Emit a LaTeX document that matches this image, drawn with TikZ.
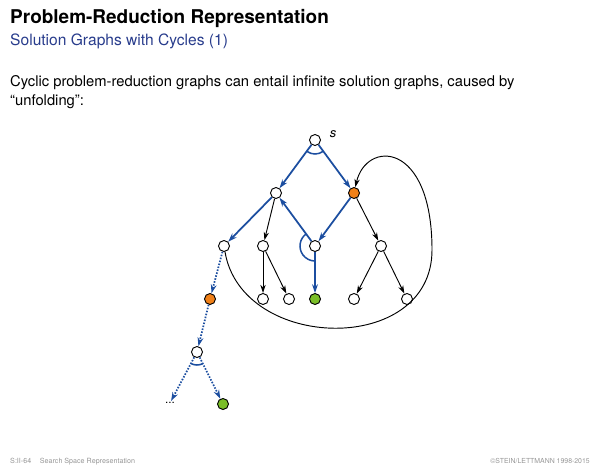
\documentclass[tikz,border=0pt]{standalone}
\usepackage{fontspec}
\setmainfont{TeX Gyre Heros}
\usetikzlibrary{arrows.meta}

\definecolor{solblue}{RGB}{28,78,160}
\definecolor{headblue}{RGB}{40,60,140}
\definecolor{solorange}{RGB}{240,128,24}
\definecolor{solgreen}{RGB}{122,190,40}
\definecolor{footgrey}{RGB}{150,150,150}

\tikzset{
  state/.style={circle,draw,line width=0.8pt,fill=white,inner sep=0pt,minimum size=0.33cm},
  open/.style={state,fill=solorange},
  solved/.style={state,fill=solgreen},
  ref/.style={line width=0.8pt,-{Stealth[length=7pt,width=4.5pt]}},
  sol/.style={draw=solblue,line width=1.5pt,-{Stealth[length=7.5pt,width=5pt]}},
  unfold/.style={sol,dash pattern=on 1.3pt off 1.3pt},
  andarc/.style={solblue,line width=1.3pt},
}

\begin{document}
\begin{tikzpicture}[x=0.03cm,y=0.03cm]
\useasboundingbox (0,0) rectangle (600,-467);
% ---- header and text ----
\node[anchor=base west,inner sep=0pt,font=\fontsize{16.2}{18}\selectfont\bfseries] (title) at (10,-23) {Problem-Reduction Representation};
\node[anchor=base west,inner sep=0pt,font=\fontsize{13.3}{15}\selectfont,text=headblue] (subtitle) at (10,-45.5) {Solution Graphs with Cycles (1)};
\node[anchor=base west,inner sep=0pt,font=\fontsize{12.6}{16}\selectfont] (line1) at (10,-86) {Cyclic problem-reduction graphs can entail infinite solution graphs, caused by};
\node[anchor=base west,inner sep=0pt,font=\fontsize{12.6}{16}\selectfont] (line2) at (10,-105) {``unfolding'':};
% ---- graph nodes ----
\node[state] (s) at (315,-140) {};
\node[inner sep=0pt,font=\fontsize{11}{12}\selectfont\itshape] (slabel) at (333,-134) {s};
\node[state] (A) at (276,-193) {};
\node[open]  (B) at (354,-193) {};
\node[state] (C) at (224,-246) {};
\node[state] (D) at (263,-246) {};
\node[state] (E) at (315,-246) {};
\node[state] (F) at (381,-246) {};
\node[open]   (G) at (210,-299) {};
\node[state]  (H) at (263,-299) {};
\node[state]  (I) at (289,-299) {};
\node[solved] (J) at (315,-299) {};
\node[state]  (K) at (354,-299) {};
\node[state]  (L) at (407,-299) {};
\node[state]  (M) at (197,-352) {};
\node[solved] (N) at (223,-404) {};
\node[inner sep=1pt,font=\fontsize{10}{10}\selectfont] (dots) at (170,-403) {...};
\coordinate (R) at (432,-250);
% ---- reduction edges ----
\draw[ref] (A) -- (D);
\draw[ref] (D) -- (H);
\draw[ref] (D) -- (I);
\draw[ref] (B) -- (F);
\draw[ref] (F) -- (K);
\draw[ref] (F) -- (L);
\draw[line width=0.8pt] (C) .. controls (242,-352) and (432,-356) .. (R);
\draw[ref] (R) .. controls (432,-140) and (366,-140) .. (B);
% ---- solution graph ----
\draw[sol] (s) -- (A);
\draw[sol] (s) -- (B);
\draw[sol] (A) -- (C);
\draw[sol] (B) -- (E);
\draw[sol] (E) -- (A);
\draw[sol] (E) -- (J);
\draw[andarc] ([shift={(234:14)}]s.center) arc[start angle=234,end angle=306,radius=14];
\draw[andarc] ([shift={(126:15)}]E.center) arc[start angle=126,end angle=270,radius=15];
% ---- unfolded part ----
\draw[unfold] (C) -- (G);
\draw[unfold] (G) -- (M);
\draw[unfold] (M) -- (dots);
\draw[unfold] (M) -- (N);
\draw[andarc] ([shift={(242:13)}]M.center) arc[start angle=242,end angle=297,radius=13];
% ---- footer ----
\node[anchor=base west,inner sep=0pt,font=\fontsize{6.1}{7}\selectfont,text=footgrey] (foot) at (10,-463) {S:II-64\hspace{1.2em}Search Space Representation};
\node[anchor=base east,inner sep=0pt,font=\fontsize{5.9}{7}\selectfont,text=footgrey] (copy) at (590,-463) {\copyright STEIN/LETTMANN 1998-2015};
\end{tikzpicture}
\end{document}
